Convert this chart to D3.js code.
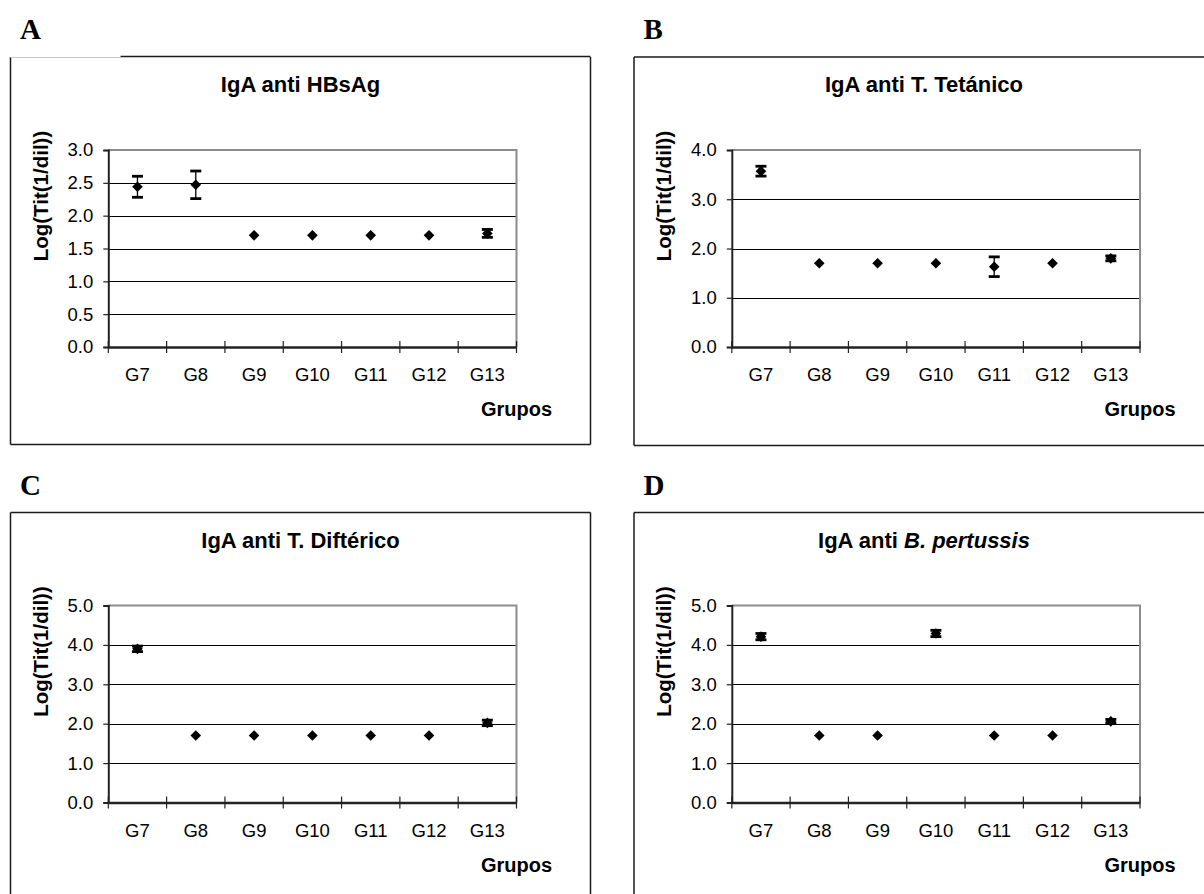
<!DOCTYPE html>
<html>
<head>
<meta charset="utf-8">
<script src="https://cdn.jsdelivr.net/npm/d3@7"></script>
<style>
  html, body { margin: 0; padding: 0; background: #fff; }
  svg { display: block; }
  text { font-family: "Liberation Sans", Arial, sans-serif; fill: #000; }
  .letter { font-family: "Liberation Serif", "Times New Roman", serif; font-weight: bold; font-size: 29px; }
  .title { font-weight: bold; font-size: 22px; }
  .ylab { font-weight: bold; font-size: 20.5px; }
  .xlab { font-weight: bold; font-size: 20px; }
  .tick text { font-size: 18.5px; }
</style>
</head>
<body>
<svg id="fig" width="1204" height="894"></svg>
<script>
// Groups on the category axis
const groups = ["G7", "G8", "G9", "G10", "G11", "G12", "G13"];

// IgA anti HBsAg: mean log titre and error half-width per group
const hbsagMean = [2.44, 2.47, 1.70, 1.70, 1.70, 1.70, 1.73];
const hbsagErr  = [0.16, 0.21, 0.00, 0.00, 0.00, 0.00, 0.06];

// IgA anti tetanus toxoid
const tetanoMean = [3.57, 1.70, 1.70, 1.70, 1.63, 1.70, 1.80];
const tetanoErr  = [0.10, 0.00, 0.00, 0.00, 0.20, 0.00, 0.05];

// IgA anti diphtheria toxoid
const difteriaMean = [3.90, 1.70, 1.70, 1.70, 1.70, 1.70, 2.02];
const difteriaErr  = [0.07, 0.00, 0.00, 0.00, 0.00, 0.00, 0.07];

// IgA anti B. pertussis
const pertussisMean = [4.21, 1.70, 1.70, 4.29, 1.70, 1.70, 2.06];
const pertussisErr  = [0.08, 0.00, 0.00, 0.08, 0.00, 0.00, 0.05];

// Y tick values of each panel
const ticksHbsag = [0, 0.5, 1.0, 1.5, 2.0, 2.5, 3.0];
const ticksTetano = [0, 1, 2, 3, 4];
const ticksDifteria = [0, 1, 2, 3, 4, 5];
const ticksPertussis = [0, 1, 2, 3, 4, 5];

// Text
const panelLetters = ["A", "B", "C", "D"];
const panelTitles = [
  [{ t: "IgA anti HBsAg" }],
  [{ t: "IgA anti T. Tetánico" }],
  [{ t: "IgA anti T. Diftérico" }],
  [{ t: "IgA anti " }, { t: "B. pertussis", italic: true }]
];
const yAxisTitle = "Log(Tit(1/dil))";
const xAxisTitle = "Grupos";

const panelData = [
  { mean: hbsagMean, err: hbsagErr, ticks: ticksHbsag },
  { mean: tetanoMean, err: tetanoErr, ticks: ticksTetano },
  { mean: difteriaMean, err: difteriaErr, ticks: ticksDifteria },
  { mean: pertussisMean, err: pertussisErr, ticks: ticksPertussis }
];

// Frame placement of the four panels (left, top, right, bottom)
const frames = [
  [10.5, 57, 590.5, 444.5],
  [634, 57, 1214, 445.5],
  [10.5, 512.5, 590.5, 900],
  [634, 512.5, 1214, 900]
];

const svg = d3.select("#fig");

panelData.forEach((pd, i) => {
  const [fl, ft, fr, fb] = frames[i];
  const g = svg.append("g");

  // panel letter
  g.append("text").attr("class", "letter")
    .attr("x", fl + 9.5).attr("y", ft - 18)
    .text(panelLetters[i]);

  // chart frame
  const frameColor = "#1a1a1a";
  g.append("line").attr("x1", fl).attr("y1", ft).attr("x2", fl).attr("y2", fb)
    .attr("stroke", frameColor).attr("stroke-width", 1.5);
  g.append("line").attr("x1", fr).attr("y1", ft).attr("x2", fr).attr("y2", fb)
    .attr("stroke", frameColor).attr("stroke-width", 1.5);
  g.append("line").attr("x1", fl).attr("y1", fb).attr("x2", fr).attr("y2", fb)
    .attr("stroke", frameColor).attr("stroke-width", 1.5);
  if (i === 0) {
    g.append("line").attr("x1", fl).attr("y1", ft + 0.5).attr("x2", fl + 110).attr("y2", ft + 0.5)
      .attr("stroke", "#c8c8c8").attr("stroke-width", 1.2);
    g.append("line").attr("x1", fl + 110).attr("y1", ft - 0.5).attr("x2", fr).attr("y2", ft - 0.5)
      .attr("stroke", frameColor).attr("stroke-width", 1.5);
  } else {
    g.append("line").attr("x1", fl).attr("y1", ft).attr("x2", fr).attr("y2", ft)
      .attr("stroke", frameColor).attr("stroke-width", 1.5);
  }

  // plot area
  const pl = fl + 97.8, pr = pl + 408.2;
  const pt = ft + 93, pb = pt + 197;

  const x = d3.scaleBand().domain(groups).range([pl, pr]);
  const yMax = d3.max(pd.ticks);
  const y = d3.scaleLinear().domain([0, yMax]).range([pb, pt]);

  // horizontal gridlines
  g.append("g").selectAll("line")
    .data(pd.ticks.filter(t => t > 0 && t < yMax))
    .join("line")
    .attr("x1", pl).attr("x2", pr)
    .attr("y1", d => Math.round(y(d)) + 0.5).attr("y2", d => Math.round(y(d)) + 0.5)
    .attr("stroke", "#000").attr("stroke-width", 1);

  // plot border (top and right)
  g.append("path")
    .attr("d", `M${pl},${y(yMax)}H${pr}V${pb}`)
    .attr("fill", "none").attr("stroke", "#8c8c8c").attr("stroke-width", 2);

  // value axis
  const yAxis = d3.axisLeft(y).tickValues(pd.ticks).tickFormat(d3.format(".1f"))
    .tickSize(5).tickPadding(10);
  const ya = g.append("g").attr("transform", `translate(${pl},0)`).call(yAxis);
  ya.select(".domain").attr("stroke", "#222").attr("stroke-width", 2);
  ya.selectAll(".tick line").attr("stroke", "#222").attr("stroke-width", 1.2);
  ya.selectAll(".tick text").attr("font-family", null).attr("font-size", null).attr("fill", "#000");

  // category axis labels
  const xAxis = d3.axisBottom(x).tickSize(0).tickPadding(21);
  const xa = g.append("g").attr("transform", `translate(0,${pb})`).call(xAxis);
  xa.select(".domain").attr("stroke", "#222").attr("stroke-width", 2.5);
  xa.selectAll(".tick text").attr("font-family", null).attr("font-size", null).attr("fill", "#000");

  // category boundary tick marks crossing the axis
  const bounds = groups.map(d => x(d)).concat([x.range()[1]]);
  g.append("g").selectAll("line").data(bounds).join("line")
    .attr("x1", d => d).attr("x2", d => d)
    .attr("y1", pb - 6).attr("y2", pb + 6)
    .attr("stroke", "#222").attr("stroke-width", 1.2);

  // error bars
  const cx = d => x(d) + x.bandwidth() / 2;
  const rows = groups.map((d, k) => ({ g: d, m: pd.mean[k], e: pd.err[k] }));
  const eb = g.append("g").selectAll("g").data(rows.filter(r => r.e > 0)).join("g");
  eb.append("line")
    .attr("x1", r => cx(r.g)).attr("x2", r => cx(r.g))
    .attr("y1", r => y(r.m + r.e)).attr("y2", r => y(r.m - r.e))
    .attr("stroke", "#000").attr("stroke-width", 1.3);
  [1, -1].forEach(s => {
    eb.append("line")
      .attr("x1", r => cx(r.g) - 5.5).attr("x2", r => cx(r.g) + 5.5)
      .attr("y1", r => y(r.m + s * r.e)).attr("y2", r => y(r.m + s * r.e))
      .attr("stroke", "#000").attr("stroke-width", 2.8);
  });

  // diamond markers at the group means
  const diamond = d3.symbol().type(d3.symbolDiamond2).size(72);
  g.append("g").selectAll("path").data(rows).join("path")
    .attr("d", diamond)
    .attr("transform", r => `translate(${cx(r.g)},${y(r.m)})`)
    .attr("fill", "#000");

  // chart title
  const title = g.append("text").attr("class", "title")
    .attr("x", fl + 290).attr("y", ft + 35).attr("text-anchor", "middle");
  panelTitles[i].forEach(p => {
    title.append("tspan").attr("font-style", p.italic ? "italic" : null).text(p.t);
  });

  // value axis title
  g.append("text").attr("class", "ylab")
    .attr("transform", `translate(${fl + 37},${ft + 139}) rotate(-90)`)
    .attr("text-anchor", "middle")
    .text(yAxisTitle);

  // category axis title
  g.append("text").attr("class", "xlab")
    .attr("x", pr).attr("y", ft + 359).attr("text-anchor", "middle")
    .text(xAxisTitle);
});
</script>
</body>
</html>
